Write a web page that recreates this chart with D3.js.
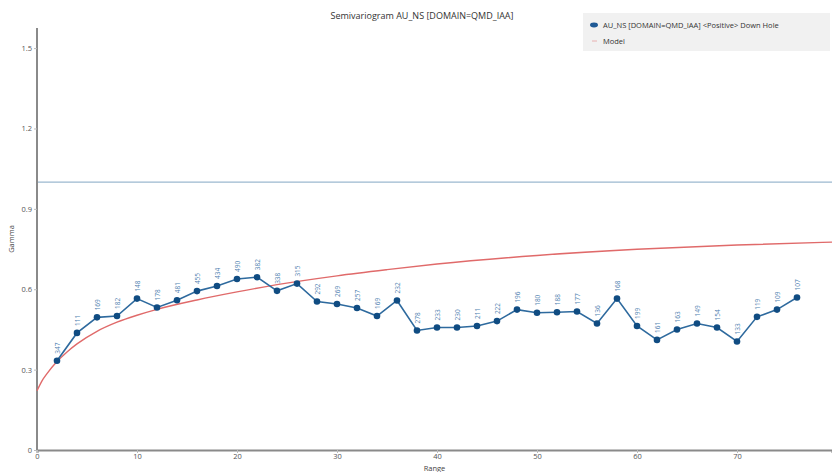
<!DOCTYPE html>
<html>
<head>
<meta charset="utf-8">
<script src="https://cdn.jsdelivr.net/npm/d3@7"></script>
<style>
  html, body { margin: 0; padding: 0; background: #fff; }
  svg { display: block; font-family: "Open Sans", "Noto Sans", sans-serif; }
</style>
</head>
<body>
<svg id="chart" width="832" height="472"></svg>
<script>
// Experimental semivariogram: lag distance, gamma and number of pairs per lag
const lags = [2, 4, 6, 8, 10, 12, 14, 16, 18, 20, 22, 24, 26, 28, 30, 32, 34, 36, 38,
              40, 42, 44, 46, 48, 50, 52, 54, 56, 58, 60, 62, 64, 66, 68, 70, 72, 74, 76];
const gammas = [0.333, 0.437, 0.495, 0.500, 0.565, 0.532, 0.559, 0.593, 0.612, 0.638,
                0.645, 0.594, 0.621, 0.554, 0.545, 0.530, 0.500, 0.558, 0.446,
                0.457, 0.457, 0.463, 0.481, 0.524, 0.512, 0.514, 0.517, 0.472, 0.565,
                0.463, 0.411, 0.450, 0.472, 0.457, 0.405, 0.497, 0.524, 0.569];
const pairs = [347, 111, 169, 182, 148, 178, 481, 455, 434, 490, 382, 338, 315, 292, 269,
               257, 169, 232, 278, 233, 230, 211, 222, 196, 180, 188, 177, 136, 168, 199,
               161, 163, 149, 154, 133, 119, 109, 107];

// Fitted model curve, sampled along the range
const modelRange = [0, 0.5, 1, 2, 3, 4, 6, 8, 10, 12, 16, 20, 24, 30, 35, 40, 50, 60, 70, 79.5];
const modelGamma = [0.221, 0.258, 0.285, 0.330, 0.366, 0.396, 0.443, 0.477, 0.503, 0.525,
                    0.560, 0.590, 0.617, 0.650, 0.673, 0.694, 0.726, 0.749, 0.765, 0.776];

const sill = 1.0;
const xTicks = [0, 10, 20, 30, 40, 50, 60, 70];
const yTicks = [0, 0.3, 0.6, 0.9, 1.2, 1.5];

const titleText = "Semivariogram AU_NS [DOMAIN=QMD_IAA]";
const legendExp = "AU_NS [DOMAIN=QMD_IAA] <Positive> Down Hole";
const legendModel = "Model";

const svg = d3.select("#chart");
const margin = { left: 37, right: 0, top: 28, bottom: 22 };
const W = 832, H = 472;

const x = d3.scaleLinear().domain([0, 79.5]).range([margin.left, W - margin.right]);
const y = d3.scaleLinear().domain([0, 1.575]).range([H - margin.bottom, margin.top]);

// Title
svg.append("text")
  .attr("x", 422).attr("y", 19)
  .attr("text-anchor", "middle")
  .attr("font-size", 9).attr("fill", "#333")
  .text(titleText);

// Sill line
svg.append("line")
  .attr("x1", x(0)).attr("x2", x(79.5))
  .attr("y1", y(sill)).attr("y2", y(sill))
  .attr("stroke", "#9bb8cf").attr("stroke-width", 1.2);

// Axes
const xAxis = d3.axisBottom(x).tickValues(xTicks).tickSize(3).tickPadding(1)
  .tickFormat(d3.format("d"));
const yAxis = d3.axisLeft(y).tickValues(yTicks).tickSize(3).tickPadding(2)
  .tickFormat(d => d === 0 ? "0" : d3.format(".1f")(d));

const gx = svg.append("g").attr("transform", `translate(0,${y(0)})`).call(xAxis);
const gy = svg.append("g").attr("transform", `translate(${x(0)},0)`).call(yAxis);
[gx, gy].forEach(g => {
  g.select(".domain").attr("stroke", "#8a8a8a").attr("stroke-width", 2);
  g.selectAll(".tick line").attr("stroke", "#bbb");
  g.selectAll(".tick text").attr("fill", "#555").attr("font-size", 7.5)
    .attr("font-family", "\"Open Sans\", \"Noto Sans\", sans-serif");
});
gy.select(".domain").attr("d", `M0,${y(0)}V${y(1.575)}`);

// Axis titles
svg.append("text")
  .attr("x", (x(0) + x(79.5)) / 2).attr("y", 471)
  .attr("text-anchor", "middle").attr("font-size", 7.5).attr("fill", "#444")
  .text("Range");
svg.append("text")
  .attr("transform", `translate(14,${(y(0) + y(1.575)) / 2}) rotate(-90)`)
  .attr("text-anchor", "middle").attr("font-size", 7.5).attr("fill", "#444")
  .text("Gamma");

// Model curve
const modelPts = modelRange.map((r, i) => [r, modelGamma[i]]);
svg.append("path")
  .datum(modelPts)
  .attr("fill", "none")
  .attr("stroke", "#e06a6a")
  .attr("stroke-width", 1.4)
  .attr("d", d3.line().x(d => x(d[0])).y(d => y(d[1])).curve(d3.curveMonotoneX));

// Experimental semivariogram
const pts = lags.map((l, i) => ({ lag: l, g: gammas[i], n: pairs[i] }));
svg.append("path")
  .datum(pts)
  .attr("fill", "none")
  .attr("stroke", "#2e6a9e")
  .attr("stroke-width", 1.6)
  .attr("d", d3.line().x(d => x(d.lag)).y(d => y(d.g)));

svg.append("g").selectAll("circle")
  .data(pts).join("circle")
  .attr("cx", d => x(d.lag)).attr("cy", d => y(d.g))
  .attr("r", 3.3)
  .attr("fill", "#104c82");

// Pair counts
svg.append("g").selectAll("text")
  .data(pts).join("text")
  .attr("transform", d => `translate(${x(d.lag) + 2.5},${y(d.g) - 7}) rotate(-90)`)
  .attr("font-size", 6.5).attr("fill", "#4f7fb0")
  .text(d => d.n);

// Legend
const lg = svg.append("g");
lg.append("rect")
  .attr("x", 583).attr("y", 13).attr("width", 247).attr("height", 38)
  .attr("fill", "#f1f1f1");
lg.append("path")
  .attr("d", d3.symbol(d3.symbolCircle, 30)())
  .attr("transform", "translate(594,25) scale(1.3,0.8)")
  .attr("fill", "#1f5a96");
lg.append("text")
  .attr("x", 603).attr("y", 28).attr("font-size", 7.5).attr("fill", "#333")
  .text(legendExp);
lg.append("line")
  .attr("x1", 592).attr("x2", 597).attr("y1", 41).attr("y2", 41)
  .attr("stroke", "#e8b0b0").attr("stroke-width", 1);
lg.append("text")
  .attr("x", 603).attr("y", 44).attr("font-size", 7.5).attr("fill", "#333")
  .text(legendModel);
</script>
</body>
</html>
